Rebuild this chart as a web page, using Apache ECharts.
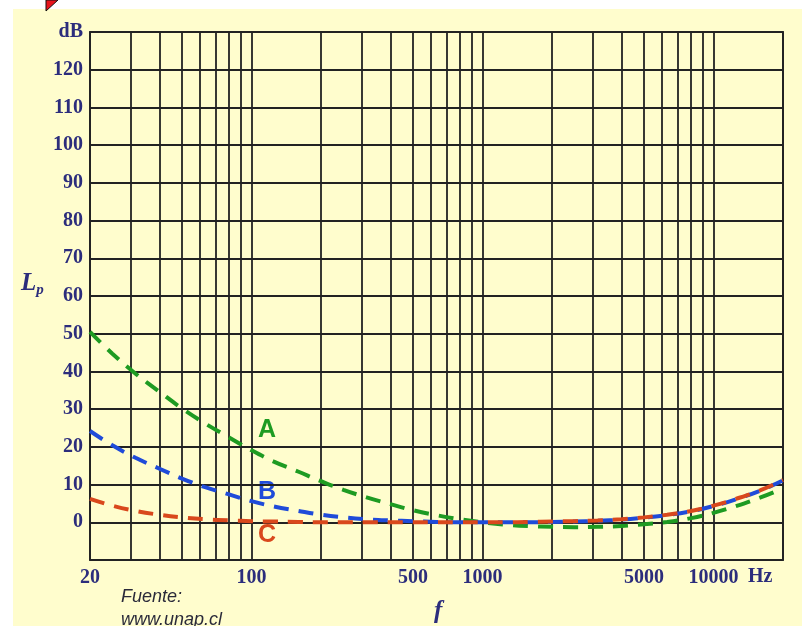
<!DOCTYPE html>
<html><head><meta charset="utf-8">
<script src="https://cdn.jsdelivr.net/npm/echarts@6/dist/echarts.min.js"></script>
<style>html,body{margin:0;padding:0;background:#fff}#c{width:802px;height:626px}</style>
</head><body><div id="c"></div>
<script>
const freqs = [20,25,31.5,40,50,63,80,100,125,160,200,250,315,400,500,630,800,1000,1250,1600,2000,2500,3150,4000,5000,6300,8000,10000,12500,16000,20000];
// Attenuation (dB) for curves A, B, C
const curveA = [50.5,44.7,39.4,34.6,30.2,26.2,22.5,19.1,16.1,13.4,10.9,8.6,6.6,4.8,3.2,1.9,0.8,0,-0.6,-1.0,-1.2,-1.3,-1.2,-1.0,-0.5,0.1,1.1,2.5,4.3,6.6,9.0];
const curveB = [24.2,20.4,17.1,14.2,11.6,9.3,7.4,5.6,4.2,3.0,2.0,1.3,0.8,0.5,0.3,0.1,0,0,0,0,0.1,0.2,0.4,0.7,1.2,1.9,2.9,4.3,6.1,8.4,11.1];
const curveC = [6.2,4.4,3.0,2.0,1.3,0.8,0.5,0.3,0.2,0.1,0,0,0,0,0,0,0,0,0,0.1,0.2,0.3,0.5,0.8,1.3,2.0,3.0,4.4,6.2,8.5,11.2];
// Grid line frequencies and labelled frequencies
const gridFreqs = [20,30,40,50,60,70,80,90,100,200,300,400,500,600,700,800,900,1000,2000,3000,4000,5000,6000,7000,8000,9000,10000,20000];
const freqLabels = [20,100,500,1000,5000,10000];
const yMin = -10, yMax = 130, yStep = 10;

const navy = '#2C2D7C';
const serif = 'Liberation Serif';
const chart = echarts.init(document.getElementById('c'), null, {renderer:'canvas'});
function mk(name, vals, color){
  return {
    name, type:'line', data: freqs.map((f,i)=>[f, vals[i]]),
    smooth: 0.4, showSymbol:false, symbol:'none', silent:true,
    lineStyle:{color, width:4, type:[15,10], cap:'butt'}
  };
}
chart.setOption({
  animation:false,
  backgroundColor:'#FFFDCD',
  grid:{left:90, right:19, top:32, bottom:66, show:true, backgroundColor:'#FFFDCD', borderColor:'#222', borderWidth:1.8},
  xAxis:{
    type:'log', logBase:10, min:20, max:20000,
    axisLine:{show:false},
    axisTick:{show:false, customValues:gridFreqs},
    axisLabel:{customValues:freqLabels, color:navy, fontFamily:serif, fontWeight:'bold', fontSize:20, margin:8,
      formatter: v => String(Math.round(v))},
    splitLine:{show:true, lineStyle:{color:'#222', width:1.8}}
  },
  yAxis:{
    type:'value', min:yMin, max:yMax, interval:yStep,
    axisLine:{show:false}, axisTick:{show:false},
    axisLabel:{color:navy, fontFamily:serif, fontWeight:'bold', fontSize:20, margin:7,
      formatter: v => v === yMax ? 'dB' : (v === yMin ? '' : String(v))},
    splitLine:{show:true, lineStyle:{color:'#222', width:1.8}}
  },
  series:[ mk('A', curveA, '#1E9B22'), mk('B', curveB, '#1F4BD9'), mk('C', curveC, '#D9481C') ],
  graphic:[
    {type:'rect', shape:{x:0,y:0,width:802,height:9}, style:{fill:'#fff'}, silent:true},
    {type:'rect', shape:{x:0,y:0,width:13,height:626}, style:{fill:'#fff'}, silent:true},
    {type:'polygon', shape:{points:[[46,0],[58,0],[46,11]]}, style:{fill:'#E8141A', stroke:'#111', lineWidth:1}, silent:true},
    {type:'text', left:21, top:271, style:{rich:{L:{fontFamily:serif, fontStyle:'italic', fontWeight:'bold', fontSize:25, fill:navy}, p:{fontFamily:serif, fontStyle:'italic', fontWeight:'bold', fontSize:15, fill:navy, padding:[14,0,0,0]}}, text:'{L|L}{p|p}'}},
    {type:'text', left:434, top:599, style:{text:'f', fontFamily:serif, fontStyle:'italic', fontWeight:'bold', fontSize:25, fill:navy}},
    {type:'text', left:748, top:567, style:{text:'Hz', fontFamily:serif, fontWeight:'bold', fontSize:20, fill:navy}},
    {type:'text', left:121, top:585, style:{text:'Fuente:\nwww.unap.cl', fontFamily:'Liberation Sans', fontStyle:'italic', fontSize:18, lineHeight:23, fill:'#2a2a3a'}},
    {type:'text', left:258, top:418, style:{text:'A', fontFamily:'Liberation Sans', fontWeight:'bold', fontSize:25, fill:'#1E9B22'}},
    {type:'text', left:258, top:480, style:{text:'B', fontFamily:'Liberation Sans', fontWeight:'bold', fontSize:25, fill:'#1F4BD9'}},
    {type:'text', left:258, top:523, style:{text:'C', fontFamily:'Liberation Sans', fontWeight:'bold', fontSize:25, fill:'#D9481C'}}
  ]
});
</script></body></html>
